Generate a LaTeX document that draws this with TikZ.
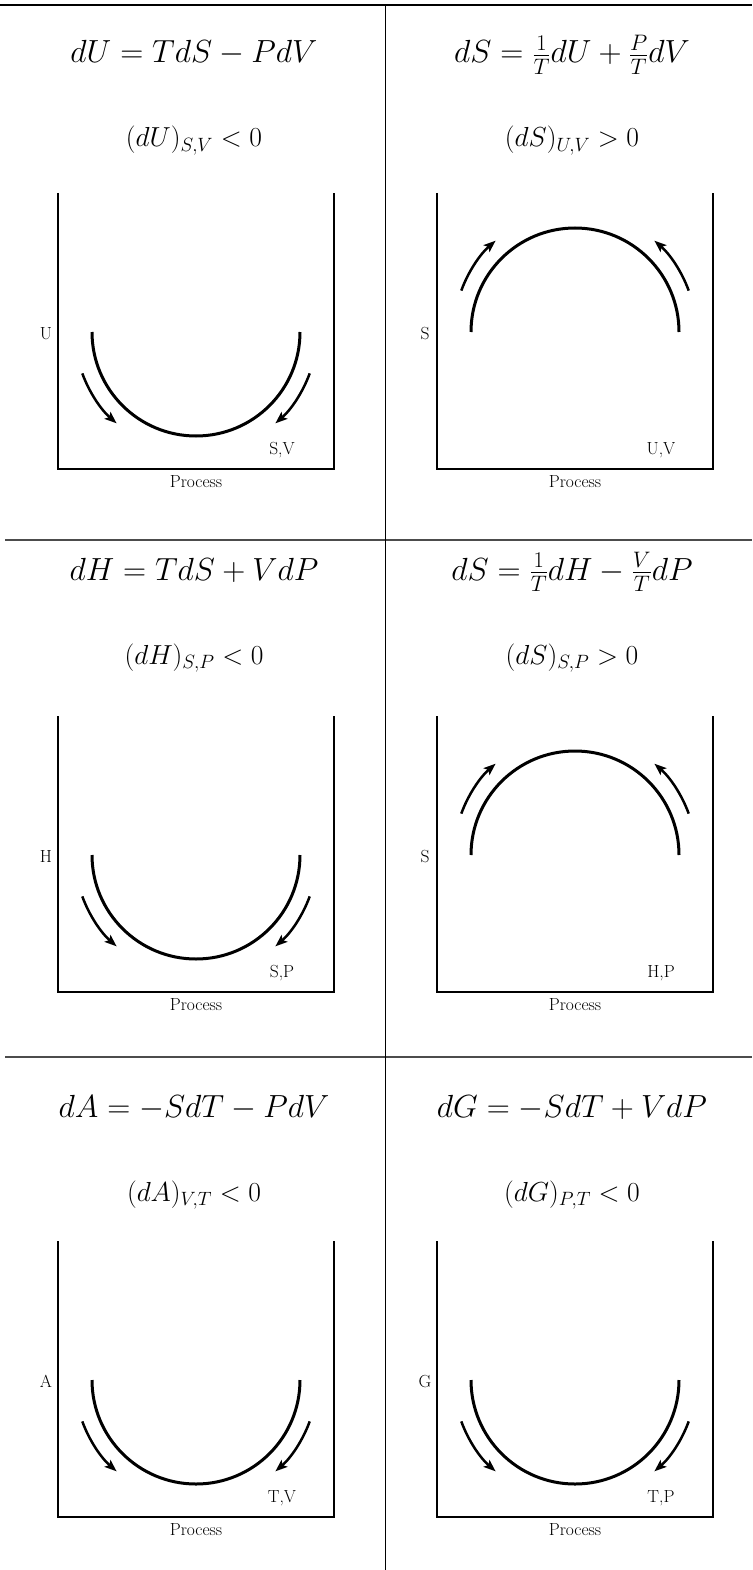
\RequirePackage{fix-cm}
\documentclass[tikz,border=0pt]{standalone}
\usetikzlibrary{arrows.meta}
\tikzset{
  eqtext/.style={font=\fontsize{32}{38}\selectfont, anchor=base, inner sep=0pt},
  condtext/.style={font=\fontsize{27.5}{32}\selectfont, anchor=base, inner sep=0pt},
  labtext/.style={font=\fontsize{17.5}{21}\selectfont, anchor=base, inner sep=0pt},
  boxline/.style={line width=2.4pt, line join=miter},
  bigarc/.style={line width=3pt},
  flowarrow/.style={line width=2.5pt, -{Stealth[length=12pt,width=9pt,inset=2.5pt]}},
  gridh/.style={line width=1.2pt, black!70},
  gridv/.style={line width=0.9pt, black}
}
\newcommand\tcell[9]{%
  % #1 box centre x, #2 box top, #3 id, #4 equation, #5 condition,
  % #6 axis letter, #7 corner label, #8 text centre x, #9 equation baseline
  \node[eqtext] (#3eq) at (#8,#9) {$#4$};
  \node[condtext] (#3cond) at (#8,#9+84) {$#5$};
  \draw[boxline] (#1-138,#2) -- (#1-138,#2+276) -- (#1+138,#2+276) -- (#1+138,#2);
  \node[labtext] (#3axis) at (#1-150,#2+146) {#6};
  \node[labtext] (#3corner) at (#1+86,#2+261) {#7};
  \node[labtext] (#3proc) at (#1,#2+294) {Process};
  \coordinate (#3c) at (#1,#2+139);
}
\newcommand\mincurve[1]{%
  \draw[bigarc] ([shift={(#1)}]180:104) arc[start angle=180, end angle=0, radius=104];
  \draw[flowarrow] ([shift={(#1)}]160:121) arc[start angle=160, end angle=131, radius=121];
  \draw[flowarrow] ([shift={(#1)}]20:121) arc[start angle=20, end angle=49, radius=121];
}
\newcommand\maxcurve[1]{%
  \draw[bigarc] ([shift={(#1)}]180:104) arc[start angle=180, end angle=360, radius=104];
  \draw[flowarrow] ([shift={(#1)}]200:121) arc[start angle=200, end angle=229, radius=121];
  \draw[flowarrow] ([shift={(#1)}]340:121) arc[start angle=340, end angle=311, radius=121];
}
\begin{document}
\begin{tikzpicture}[x=1pt, y=-1pt]
  \useasboundingbox[fill=white] (0,0) rectangle (752,1570);
  % grid
  \coordinate (t0) at (0,5);   \coordinate (t1) at (752,5);
  \coordinate (m0) at (5,540); \coordinate (m1) at (752,540);
  \coordinate (b0) at (5,1057);\coordinate (b1) at (752,1057);
  \coordinate (v0) at (385,5); \coordinate (v1) at (385,1570);
  \draw[gridh, black] (t0) -- (t1);
  \draw[gridh] (m0) -- (m1);
  \draw[gridh] (b0) -- (b1);
  \draw[gridv] (v0) -- (v1);
  % row 1
  \tcell{196}{193}{a}{dU = TdS - PdV}{(dU)_{S,V} < 0}{U}{S,V}{194}{63}
  \mincurve{ac}
  \tcell{575}{193}{b}{dS = \frac{1}{T}dU + \frac{P}{T}dV}{(dS)_{U,V} > 0}{S}{U,V}{572}{63}
  \maxcurve{bc}
  % row 2
  \tcell{196}{716}{c}{dH = TdS + VdP}{(dH)_{S,P} < 0}{H}{S,P}{194}{580}
  \mincurve{cc}
  \tcell{575}{716}{d}{dS = \frac{1}{T}dH - \frac{V}{T}dP}{(dS)_{S,P} > 0}{S}{H,P}{572}{580}
  \maxcurve{dc}
  % row 3
  \tcell{196}{1241}{e}{dA = -SdT - PdV}{(dA)_{V,T} < 0}{A}{T,V}{194}{1117}
  \mincurve{ec}
  \tcell{575}{1241}{f}{dG = -SdT + VdP}{(dG)_{P,T} < 0}{G}{T,P}{572}{1117}
  \mincurve{fc}
\end{tikzpicture}
\end{document}
